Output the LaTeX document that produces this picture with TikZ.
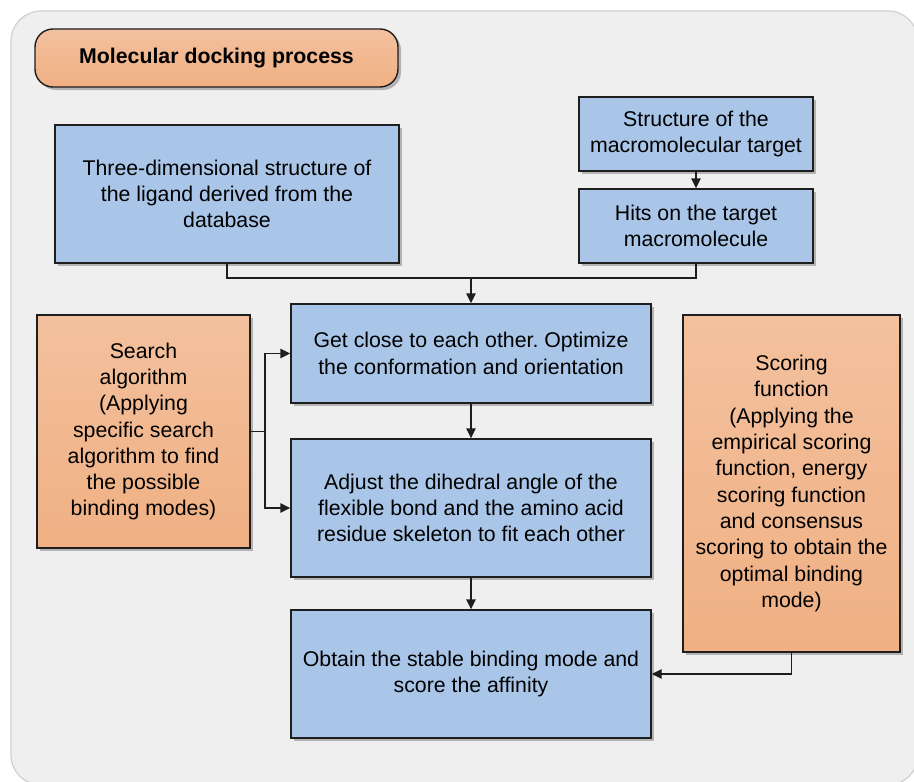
\documentclass[tikz,border=0pt]{standalone}
\usepackage{fontspec}
\setmainfont{Liberation Sans}
\usetikzlibrary{arrows.meta,shadows}
\definecolor{bgfill}{HTML}{EFEFEF}
\definecolor{bgline}{HTML}{CFCFCF}
\definecolor{bluefill}{HTML}{A9C6E8}
\definecolor{orangetop}{HTML}{F3C19E}
\definecolor{orangebot}{HTML}{F0B083}
\definecolor{edge}{HTML}{1E1E1E}
\tikzset{
  base/.style={draw=edge, line width=1.4pt, align=center, inner sep=0pt,
    font=\fontsize{21.3}{26.3}\selectfont\frenchspacing,
    drop shadow={shadow xshift=3pt, shadow yshift=-3pt, fill=black, opacity=0.25}},
  bluebox/.style={base, rectangle, fill=bluefill},
  orangebox/.style={base, rectangle, top color=orangetop, bottom color=orangebot},
  titlebox/.style={base, rectangle, rounded corners=18pt, top color=orangetop, bottom color=orangebot,
    font=\fontsize{21.3}{25}\selectfont\bfseries},
  conn/.style={draw=edge, line width=1.4pt},
  arr/.style={conn, -{Triangle[length=10pt,width=9.5pt]}}
}
\begin{document}
\begin{tikzpicture}[x=1pt,y=-1pt]
\useasboundingbox (0,0) rectangle (914,782);
\begin{scope}
\clip (0,0) rectangle (914,782);
\path[fill=bgfill, draw=bgline, line width=1.2pt, rounded corners=30pt] (11,11) rectangle (918,785);
\end{scope}

\node[titlebox, minimum width=363pt, minimum height=58pt] (title) at (216.5,58) {Molecular docking process};

\node[bluebox, minimum width=344pt, minimum height=138pt] (lig) at (227,194)
  {Three-dimensional structure of\\the ligand derived from the\\database};
\node[bluebox, minimum width=234pt, minimum height=74pt] (struct) at (696,134)
  {Structure of the\\macromolecular target};
\node[bluebox, minimum width=234pt, minimum height=74pt] (hits) at (696,226)
  {Hits on the target\\macromolecule};
\node[bluebox, minimum width=360pt, minimum height=99pt] (close) at (471,353.5)
  {Get close to each other. Optimize\\the conformation and orientation};
\node[orangebox, minimum width=213pt, minimum height=233pt] (search) at (143.5,431.5)
  {Search\\algorithm\\(Applying\\specific search\\algorithm to find\\the possible\\binding modes)};
\node[bluebox, minimum width=360pt, minimum height=138pt] (adjust) at (471,508)
  {Adjust the dihedral angle of the\\flexible bond and the amino acid\\residue skeleton to fit each other};
\node[bluebox, minimum width=360pt, minimum height=128pt] (obtain) at (471,674)
  {Obtain the stable binding mode and\\score the affinity};
\node[orangebox, minimum width=217pt, minimum height=337pt] (scoring) at (791.5,483.5)
  {Scoring\\function\\(Applying the\\empirical scoring\\function, energy\\scoring function\\and consensus\\scoring to obtain the\\optimal binding\\mode)};

\coordinate (jn) at (471,278);
\coordinate (sj) at (265,431.5);

\draw[conn] (lig.south) |- (jn) -| (hits.south);
\draw[arr] (jn) -- (close.north);
\draw[arr] (struct.south) -- (hits.north);
\draw[arr] (close.south) -- (adjust.north);
\draw[arr] (adjust.south) -- (obtain.north);
\draw[conn] (search.east) -- (sj);
\draw[arr] (sj) |- (close.west);
\draw[arr] (sj) |- (adjust.west);
\draw[arr] (scoring.south) |- (obtain.east);
\end{tikzpicture}
\end{document}
